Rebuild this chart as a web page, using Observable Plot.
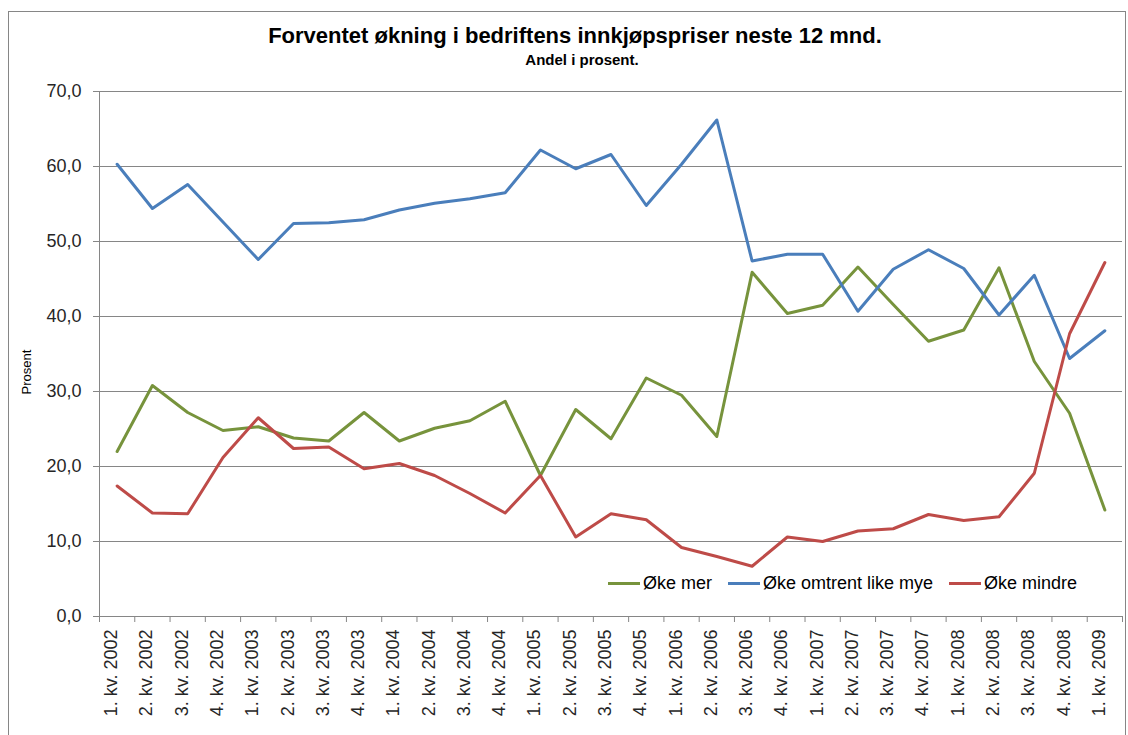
<!DOCTYPE html>
<html>
<head>
<meta charset="utf-8">
<script src="https://cdn.jsdelivr.net/npm/d3@7"></script>
<script src="https://cdn.jsdelivr.net/npm/@observablehq/plot@0.6"></script>
<style>
  html, body { margin: 0; padding: 0; background: #fff; }
  body { width: 1128px; height: 735px; position: relative; overflow: hidden; font-family: "Liberation Sans", Arial, sans-serif; }
  #border { position: absolute; left: 8px; top: 11px; width: 1118px; height: 740px; border: 1px solid #868686; box-sizing: border-box; }
  #title { position: absolute; left: 0; top: 25px; width: 1150px; text-align: center; font-weight: bold; font-size: 22px; line-height: 22px; color: #000; white-space: nowrap; }
  #subtitle { position: absolute; left: 0; top: 52px; width: 1164px; text-align: center; font-weight: bold; font-size: 15px; line-height: 15px; color: #000; white-space: nowrap; }
  #ylabel { position: absolute; left: 26px; top: 372px; transform: translate(-50%, -50%) rotate(-90deg); font-size: 13px; color: #000; white-space: nowrap; }
  #chart { position: absolute; left: 0; top: 70px; }
  #legend { position: absolute; top: 572px; left: 608px; font-size: 18px; line-height: 22px; color: #000; white-space: nowrap; }
  #legend .item { position: absolute; top: 0; display: flex; align-items: center; }
  #legend .sw { display: inline-block; width: 32px; height: 0; border-top: 3px solid; margin-right: 3px; }
</style>
</head>
<body>
<div id="border"></div>
<div id="title">Forventet økning i bedriftens innkjøpspriser neste 12 mnd.</div>
<div id="subtitle">Andel i prosent.</div>
<div id="ylabel">Prosent</div>
<div id="chart"></div>
<div id="legend"></div>
<script>
const categories = [
  "1. kv. 2002","2. kv. 2002","3. kv. 2002","4. kv. 2002",
  "1. kv. 2003","2. kv. 2003","3. kv. 2003","4. kv. 2003",
  "1. kv. 2004","2. kv. 2004","3. kv. 2004","4. kv. 2004",
  "1. kv. 2005","2. kv. 2005","3. kv. 2005","4. kv. 2005",
  "1. kv. 2006","2. kv. 2006","3. kv. 2006","4. kv. 2006",
  "1. kv. 2007","2. kv. 2007","3. kv. 2007","4. kv. 2007",
  "1. kv. 2008","2. kv. 2008","3. kv. 2008","4. kv. 2008",
  "1. kv. 2009"
];
const okeMer = [22.0, 30.8, 27.2, 24.8, 25.3, 23.8, 23.4, 27.2, 23.4, 25.1, 26.1, 28.7, 18.8, 27.6, 23.7, 31.8, 29.5, 24.0, 45.9, 40.4, 41.5, 46.6, 41.6, 36.7, 38.2, 46.5, 34.0, 27.1, 14.2];
const okeLike = [60.3, 54.4, 57.6, 52.6, 47.6, 52.4, 52.5, 52.9, 54.2, 55.1, 55.7, 56.5, 62.2, 59.7, 61.6, 54.8, 60.3, 66.2, 47.4, 48.3, 48.3, 40.7, 46.3, 48.9, 46.4, 40.2, 45.5, 34.4, 38.1];
const okeMindre = [17.4, 13.8, 13.7, 21.2, 26.5, 22.4, 22.6, 19.7, 20.4, 18.8, 16.4, 13.8, 18.8, 10.6, 13.7, 12.9, 9.2, 8.0, 6.7, 10.6, 10.0, 11.4, 11.7, 13.6, 12.8, 13.3, 19.1, 37.7, 47.2];
const seriesNames = ["Øke mer", "Øke omtrent like mye", "Øke mindre"];
const seriesColors = ["#77933C", "#4A7EBB", "#BE4B48"];
const yTicks = [0, 10, 20, 30, 40, 50, 60, 70];

const seriesValues = [okeMer, okeLike, okeMindre];
const rows = [];
seriesValues.forEach((vals, s) => vals.forEach((v, i) => rows.push({series: seriesNames[s], i, cat: categories[i], value: v})));

const n = categories.length;
const xDomain = [-0.5, n - 0.5];
const boundaries = d3.range(n + 1).map(k => k - 0.5);
const fmt = d => d.toFixed(1).replace(".", ",");
const gridColor = "#868686";

const chart = Plot.plot({
  width: 1128,
  height: 665,
  marginTop: 21,
  marginBottom: 119,
  marginLeft: 99,
  marginRight: 6,
  style: {fontFamily: "'Liberation Sans', Arial, sans-serif", background: "transparent"},
  x: {type: "linear", domain: xDomain, axis: null},
  y: {domain: [0, 70], axis: null},
  color: {domain: seriesNames, range: seriesColors},
  marks: [
    Plot.gridY(yTicks, {stroke: gridColor, strokeOpacity: 1}),
    Plot.ruleX([xDomain[0]], {stroke: gridColor}),
    Plot.ruleY([0], {stroke: gridColor}),
    Plot.ruleX(boundaries, {x: d => d, y1: 0, y2: 0, insetBottom: -6, stroke: gridColor}),
    Plot.axisY(yTicks, {tickFormat: fmt, tickSize: 6, tickPadding: 12, fontSize: 18, stroke: gridColor, color: "#262626", label: null}),
    Plot.text(categories, {x: (d, i) => i, frameAnchor: "bottom", rotate: -90, textAnchor: "end", dy: 13, fontSize: 18, fill: "#262626", text: d => d}),
    Plot.line(rows, {x: "i", y: "value", z: "series", stroke: "series", strokeWidth: 3, strokeLinejoin: "round", strokeLinecap: "round"})
  ]
});
document.getElementById("chart").appendChild(chart);

const legend = document.getElementById("legend");
const legendOffsets = [0, 120, 341];
seriesNames.forEach((name, k) => {
  const item = document.createElement("div");
  item.className = "item";
  item.style.left = legendOffsets[k] + "px";
  const sw = document.createElement("span");
  sw.className = "sw";
  sw.style.borderTopColor = seriesColors[k];
  item.appendChild(sw);
  item.appendChild(document.createTextNode(name));
  legend.appendChild(item);
});
</script>
</body>
</html>
